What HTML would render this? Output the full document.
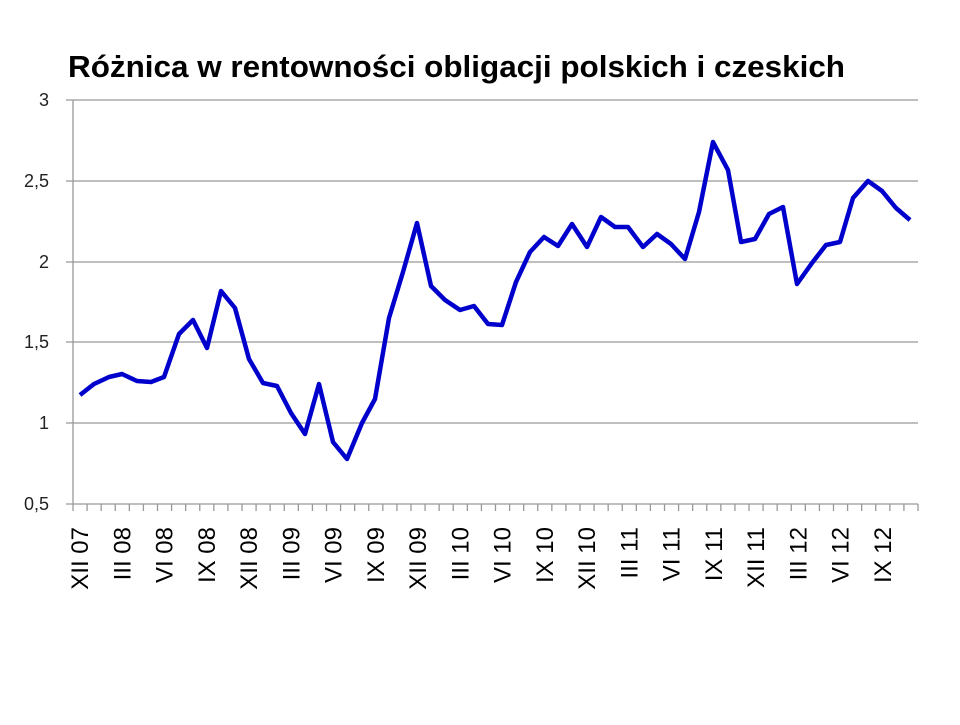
<!DOCTYPE html>
<html><head><meta charset="utf-8"><style>
html,body{margin:0;padding:0;background:#fff;}
</style></head><body>
<svg width="960" height="720" xmlns="http://www.w3.org/2000/svg" font-family="Liberation Sans, DejaVu Sans, sans-serif">
<text x="68" y="77" font-size="31" font-weight="bold" fill="#000" textLength="777" lengthAdjust="spacingAndGlyphs">Różnica w rentowności obligacji polskich i czeskich</text>
<g stroke="#999" stroke-width="1.3">
<line x1="66" y1="100" x2="918" y2="100"/>
<line x1="66" y1="181" x2="918" y2="181"/>
<line x1="66" y1="262" x2="918" y2="262"/>
<line x1="66" y1="342" x2="918" y2="342"/>
<line x1="66" y1="423" x2="918" y2="423"/>
<line x1="66" y1="504" x2="918" y2="504"/>
<line x1="73" y1="100" x2="73" y2="504"/>
</g>
<g id="ticks" stroke="#999" stroke-width="1.3"></g>
<g font-size="18" fill="#222" text-anchor="end">
<text x="49" y="106">3</text>
<text x="49" y="187">2,5</text>
<text x="49" y="268">2</text>
<text x="49" y="348">1,5</text>
<text x="49" y="429">1</text>
<text x="49" y="510">0,5</text>
</g>
<g id="xl" font-size="24" fill="#000" text-anchor="end"></g>
<polyline fill="none" stroke="#0000CC" stroke-width="4.5" stroke-linejoin="round" points="80,395 94,384 109,377 122,374 137,381 151,382 164,377 179,334 193,320 207,348 221,291 235,308 249,359 263,383 277,386 291,413 305,434 319,384 333,442 347,459 362,423 375,399 389,318 403,272 417,223 431,286 445,300 460,310 474,306 488,324 502,325 516,282 530,252 544,237 558,246 572,224 587,247 601,217 615,227 628,227 643,247 657,234 671,244 685,259 699,212 713,142 728,170 741,242 755,239 769,214 783,207 797,284 812,263 826,245 840,242 853,198 868,181 882,191 896,208 910,220"/>
</svg>
<script>
var ns="http://www.w3.org/2000/svg";
var t=document.getElementById("ticks");
for(var i=0;i<=60;i++){var x=73+i*(845/60);var l=document.createElementNS(ns,"line");l.setAttribute("x1",x);l.setAttribute("x2",x);l.setAttribute("y1",504);l.setAttribute("y2",511);t.appendChild(l);}
var labs=["XII 07","III 08","VI 08","IX 08","XII 08","III 09","VI 09","IX 09","XII 09","III 10","VI 10","IX 10","XII 10","III 11","VI 11","IX 11","XII 11","III 12","VI 12","IX 12"];
var g=document.getElementById("xl");
for(var j=0;j<labs.length;j++){var x=80+j*3*(845/60)+8;var tx=document.createElementNS(ns,"text");tx.setAttribute("transform","translate("+x+",527) rotate(-90)");tx.textContent=labs[j];g.appendChild(tx);}
</script>
</body></html>
